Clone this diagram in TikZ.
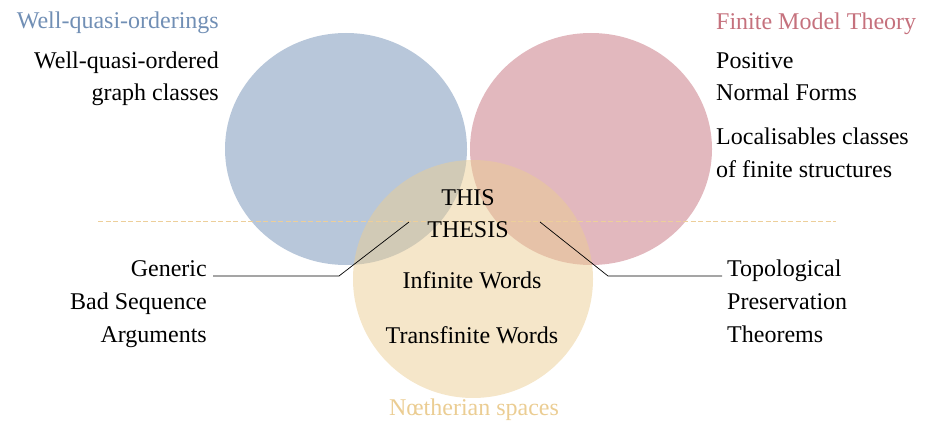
\documentclass[tikz,border=0pt]{standalone}
\usepackage{fontspec}
\setmainfont{Liberation Serif}
\newfontfamily\diagfont{Liberation Serif}
\definecolor{wqoblue}{HTML}{718FB5}
\definecolor{fmtred}{HTML}{C5717D}
\definecolor{noethyellow}{HTML}{EBCD93}
\definecolor{sepcol}{HTML}{EDCF9A}
\tikzset{
  lbl/.style={inner sep=0pt, font=\diagfont\fontsize{24}{28}\selectfont},
  disc/.style={opacity=0.5},
  conn/.style={draw=black, line width=0.7pt},
  sep/.style={draw=sepcol, line width=0.7pt, dash pattern=on 5pt off 2.5pt}
}
\begin{document}
\begin{tikzpicture}[x=1pt, y=-1pt]
\useasboundingbox (0,0) rectangle (931,422);
% circles
\fill[disc, wqoblue] (346,149) ellipse [x radius=121pt, y radius=116pt];
\fill[disc, fmtred] (591,149) ellipse [x radius=121pt, y radius=116pt];
\fill[disc, noethyellow] (473,279) ellipse [x radius=120pt, y radius=119pt];
% dashed separator
\coordinate (sepL) at (98,221);
\coordinate (sepR) at (836,221);
\draw[sep] (sepL) -- (sepR);
% titles
\node[lbl, anchor=base east, text=wqoblue] (tWQO) at (219,29) {Well-quasi-orderings};
\node[lbl, anchor=base west, text=fmtred] (tFMT) at (716,30) {Finite Model Theory};
\node[lbl, anchor=base, text=noethyellow] (tNS) at (474,415) {Nœtherian spaces};
% left top
\node[lbl, anchor=base east] (wqo1) at (219,69) {Well-quasi-ordered};
\node[lbl, anchor=base east] (wqo2) at (219,101) {graph classes};
% right top
\node[lbl, anchor=base west] (fmt1) at (716,69) {Positive};
\node[lbl, anchor=base west] (fmt2) at (716,101) {Normal Forms};
\node[lbl, anchor=base west] (fmt3) at (716,145) {Localisables classes};
\node[lbl, anchor=base west] (fmt4) at (716,178) {of finite structures};
% centre
\node[lbl, anchor=base] (this) at (468,205) {THIS};
\node[lbl, anchor=base] (thesis) at (468,237) {THESIS};
\node[lbl, anchor=base] (inf) at (472,288) {Infinite Words};
\node[lbl, anchor=base] (trans) at (472,343) {Transfinite Words};
% bottom left
\node[lbl, anchor=base east] (gen1) at (207,276) {Generic};
\node[lbl, anchor=base east] (gen2) at (207,309) {Bad Sequence};
\node[lbl, anchor=base east] (gen3) at (207,342) {Arguments};
% bottom right
\node[lbl, anchor=base west] (top1) at (727,276) {Topological};
\node[lbl, anchor=base west] (top2) at (727,309) {Preservation};
\node[lbl, anchor=base west] (top3) at (727,342) {Theorems};
% connectors
\coordinate (lA) at (409,222);
\coordinate (lB) at (339,276);
\coordinate (lC) at (213,276);
\coordinate (rA) at (540,222);
\coordinate (rB) at (608,276);
\coordinate (rC) at (722,276);
\draw[conn] (lA) -- (lB) -- (lC);
\draw[conn] (rA) -- (rB) -- (rC);
\end{tikzpicture}
\end{document}
